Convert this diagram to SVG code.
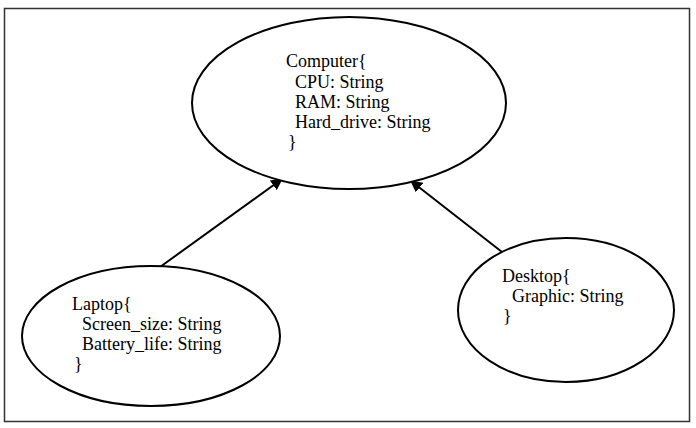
<svg xmlns="http://www.w3.org/2000/svg" width="696" height="428" viewBox="0 0 696 428">
  <style>
    .node { fill: #fff; stroke: #000; stroke-width: 2; }
    .label { font-family: "Liberation Serif", "Times New Roman", serif; font-size: 18px; fill: #000; }
    .edge { stroke: #000; stroke-width: 2; fill: none; marker-end: url(#arrow); }
  </style>
  <defs>
    <marker id="arrow" viewBox="0 0 10 10" refX="9" refY="5" markerWidth="6" markerHeight="6" orient="auto" markerUnits="strokeWidth">
      <path d="M0,0 L10,5 L0,10 z" fill="#000"/>
    </marker>
  </defs>

  <rect x="4.5" y="8.5" width="685" height="413" fill="#fff" stroke="#333" stroke-width="1.5"/>

  <g id="connectors">
    <line class="edge" x1="160" y1="267" x2="282" y2="179"/>
    <line class="edge" x1="502" y1="252" x2="411" y2="181"/>
  </g>

  <g id="computer">
    <ellipse class="node" cx="349" cy="103" rx="157" ry="86"/>
    <text class="label" x="286" y="67">Computer{</text>
    <text class="label" x="295" y="88">CPU: String</text>
    <text class="label" x="295" y="108">RAM: String</text>
    <text class="label" x="295" y="128">Hard_drive: String</text>
    <text class="label" x="288" y="148">}</text>
  </g>

  <g id="laptop">
    <ellipse class="node" cx="151" cy="336" rx="129" ry="70"/>
    <text class="label" x="72" y="310">Laptop{</text>
    <text class="label" x="82" y="330">Screen_size: String</text>
    <text class="label" x="82" y="350">Battery_life: String</text>
    <text class="label" x="74" y="370">}</text>
  </g>

  <g id="desktop">
    <ellipse class="node" cx="566" cy="310" rx="108" ry="72"/>
    <text class="label" x="502" y="282">Desktop{</text>
    <text class="label" x="512" y="302">Graphic: String</text>
    <text class="label" x="503" y="322">}</text>
  </g>
</svg>
